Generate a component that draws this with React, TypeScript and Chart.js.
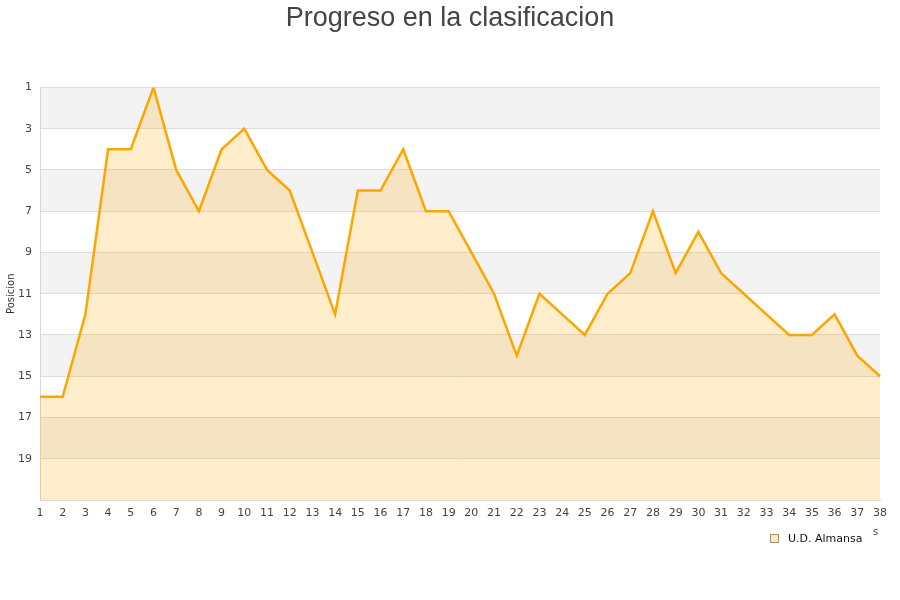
import { useEffect, useRef } from 'react';
import { Chart, registerables, Plugin } from 'chart.js';

Chart.register(...registerables);

const jornadas = [
  '1', '2', '3', '4', '5', '6', '7', '8', '9', '10',
  '11', '12', '13', '14', '15', '16', '17', '18', '19', '20',
  '21', '22', '23', '24', '25', '26', '27', '28', '29', '30',
  '31', '32', '33', '34', '35', '36', '37', '38',
];

const posiciones = [
  16, 16, 12, 4, 4, 1, 5, 7, 4, 3,
  5, 6, 9, 12, 6, 6, 4, 7, 7, 9,
  11, 14, 11, 12, 13, 11, 10, 7, 10, 8,
  10, 11, 12, 13, 13, 12, 14, 15,
];

const equipo = 'U.D. Almansa';
const titulo = 'Progreso en la clasificacion';
const ejeY = 'Posicion';

// alternating grey bands behind the plot
const bandas: Plugin<'line'> = {
  id: 'bandas',
  beforeDraw(chart) {
    const { ctx, chartArea, scales } = chart;
    const y = scales.y;
    ctx.save();
    ctx.fillStyle = '#f3f3f3';
    for (let v = 1; v < 21; v += 4) {
      const top = y.getPixelForValue(v);
      const bottom = y.getPixelForValue(v + 2);
      ctx.fillRect(chartArea.left, top, chartArea.right - chartArea.left, bottom - top);
    }
    ctx.restore();
  },
};

// legend drawn by hand at the bottom right, under the axis
const leyenda: Plugin<'line'> = {
  id: 'leyenda',
  afterDraw(chart) {
    const { ctx, chartArea } = chart;
    const yMid = chartArea.bottom + 38;
    ctx.save();
    ctx.fillStyle = '#fde8c0';
    ctx.strokeStyle = '#a89068';
    ctx.lineWidth = 1;
    ctx.fillRect(770.5, yMid - 3.5, 8, 8);
    ctx.strokeRect(770.5, yMid - 3.5, 8, 8);
    ctx.fillStyle = '#111';
    ctx.font = '11px "DejaVu Sans"';
    ctx.textBaseline = 'middle';
    ctx.textAlign = 'left';
    ctx.fillText(equipo, 788, yMid + 1);
    ctx.fillStyle = '#444';
    ctx.font = '10px "DejaVu Sans"';
    ctx.fillText('s', 873, yMid - 6);
    ctx.restore();
  },
};

export default function App() {
  const canvasRef = useRef<HTMLCanvasElement>(null);

  useEffect(() => {
    if (!canvasRef.current) return;
    const chart = new Chart(canvasRef.current, {
      type: 'line',
      data: {
        labels: jornadas,
        datasets: [
          {
            label: equipo,
            data: posiciones,
            borderColor: '#ffa500',
            borderWidth: 2.5,
            backgroundColor: 'rgba(255,165,0,0.2)',
            fill: { value: 21 },
            tension: 0,
            pointRadius: 0,
          },
        ],
      },
      options: {
        animation: false,
        responsive: false,
        layout: { padding: { top: 0, right: 0, bottom: 76, left: 0 } },
        plugins: {
          title: {
            display: true,
            text: titulo,
            color: '#444',
            font: { family: 'Liberation Sans', size: 27, weight: 'normal' },
            padding: { top: 2, bottom: 53 },
          },
          legend: { display: false },
          tooltip: { enabled: false },
        },
        scales: {
          x: {
            offset: false,
            grid: { display: false, drawTicks: false },
            border: { color: '#d8d8d8' },
            ticks: {
              color: '#444',
              font: { family: 'DejaVu Sans', size: 11 },
              maxRotation: 0,
              autoSkip: false,
              padding: 7,
            },
            afterFit: (s) => {
              s.height = 24;
            },
          },
          y: {
            reverse: true,
            min: 1,
            max: 21,
            grid: { color: '#dddddd', drawTicks: false },
            border: { color: '#d8d8d8' },
            ticks: {
              stepSize: 2,
              color: '#444',
              font: { family: 'DejaVu Sans', size: 11 },
              padding: 8,
              callback: (v) => (Number(v) === 21 ? '' : String(v)),
            },
            title: {
              display: true,
              text: ejeY,
              color: '#333',
              font: { family: 'DejaVu Sans', size: 10 },
              padding: { top: 5, bottom: 0 },
            },
            afterFit: (s) => {
              s.width = 40;
            },
          },
          // empty axis on the right, keeps a 20px margin so the title stays centred on the page
          yr: {
            position: 'right',
            display: true,
            grid: { display: false, drawTicks: false },
            border: { display: false },
            ticks: { display: false },
            afterFit: (s) => {
              s.width = 20;
            },
          },
        },
      },
      plugins: [bandas, leyenda],
    });
    return () => chart.destroy();
  }, []);

  return (
    <div style={{ position: 'absolute', left: 0, top: 0, width: 900, height: 600, background: '#fff' }}>
      <canvas ref={canvasRef} width={900} height={600} />
    </div>
  );
}
